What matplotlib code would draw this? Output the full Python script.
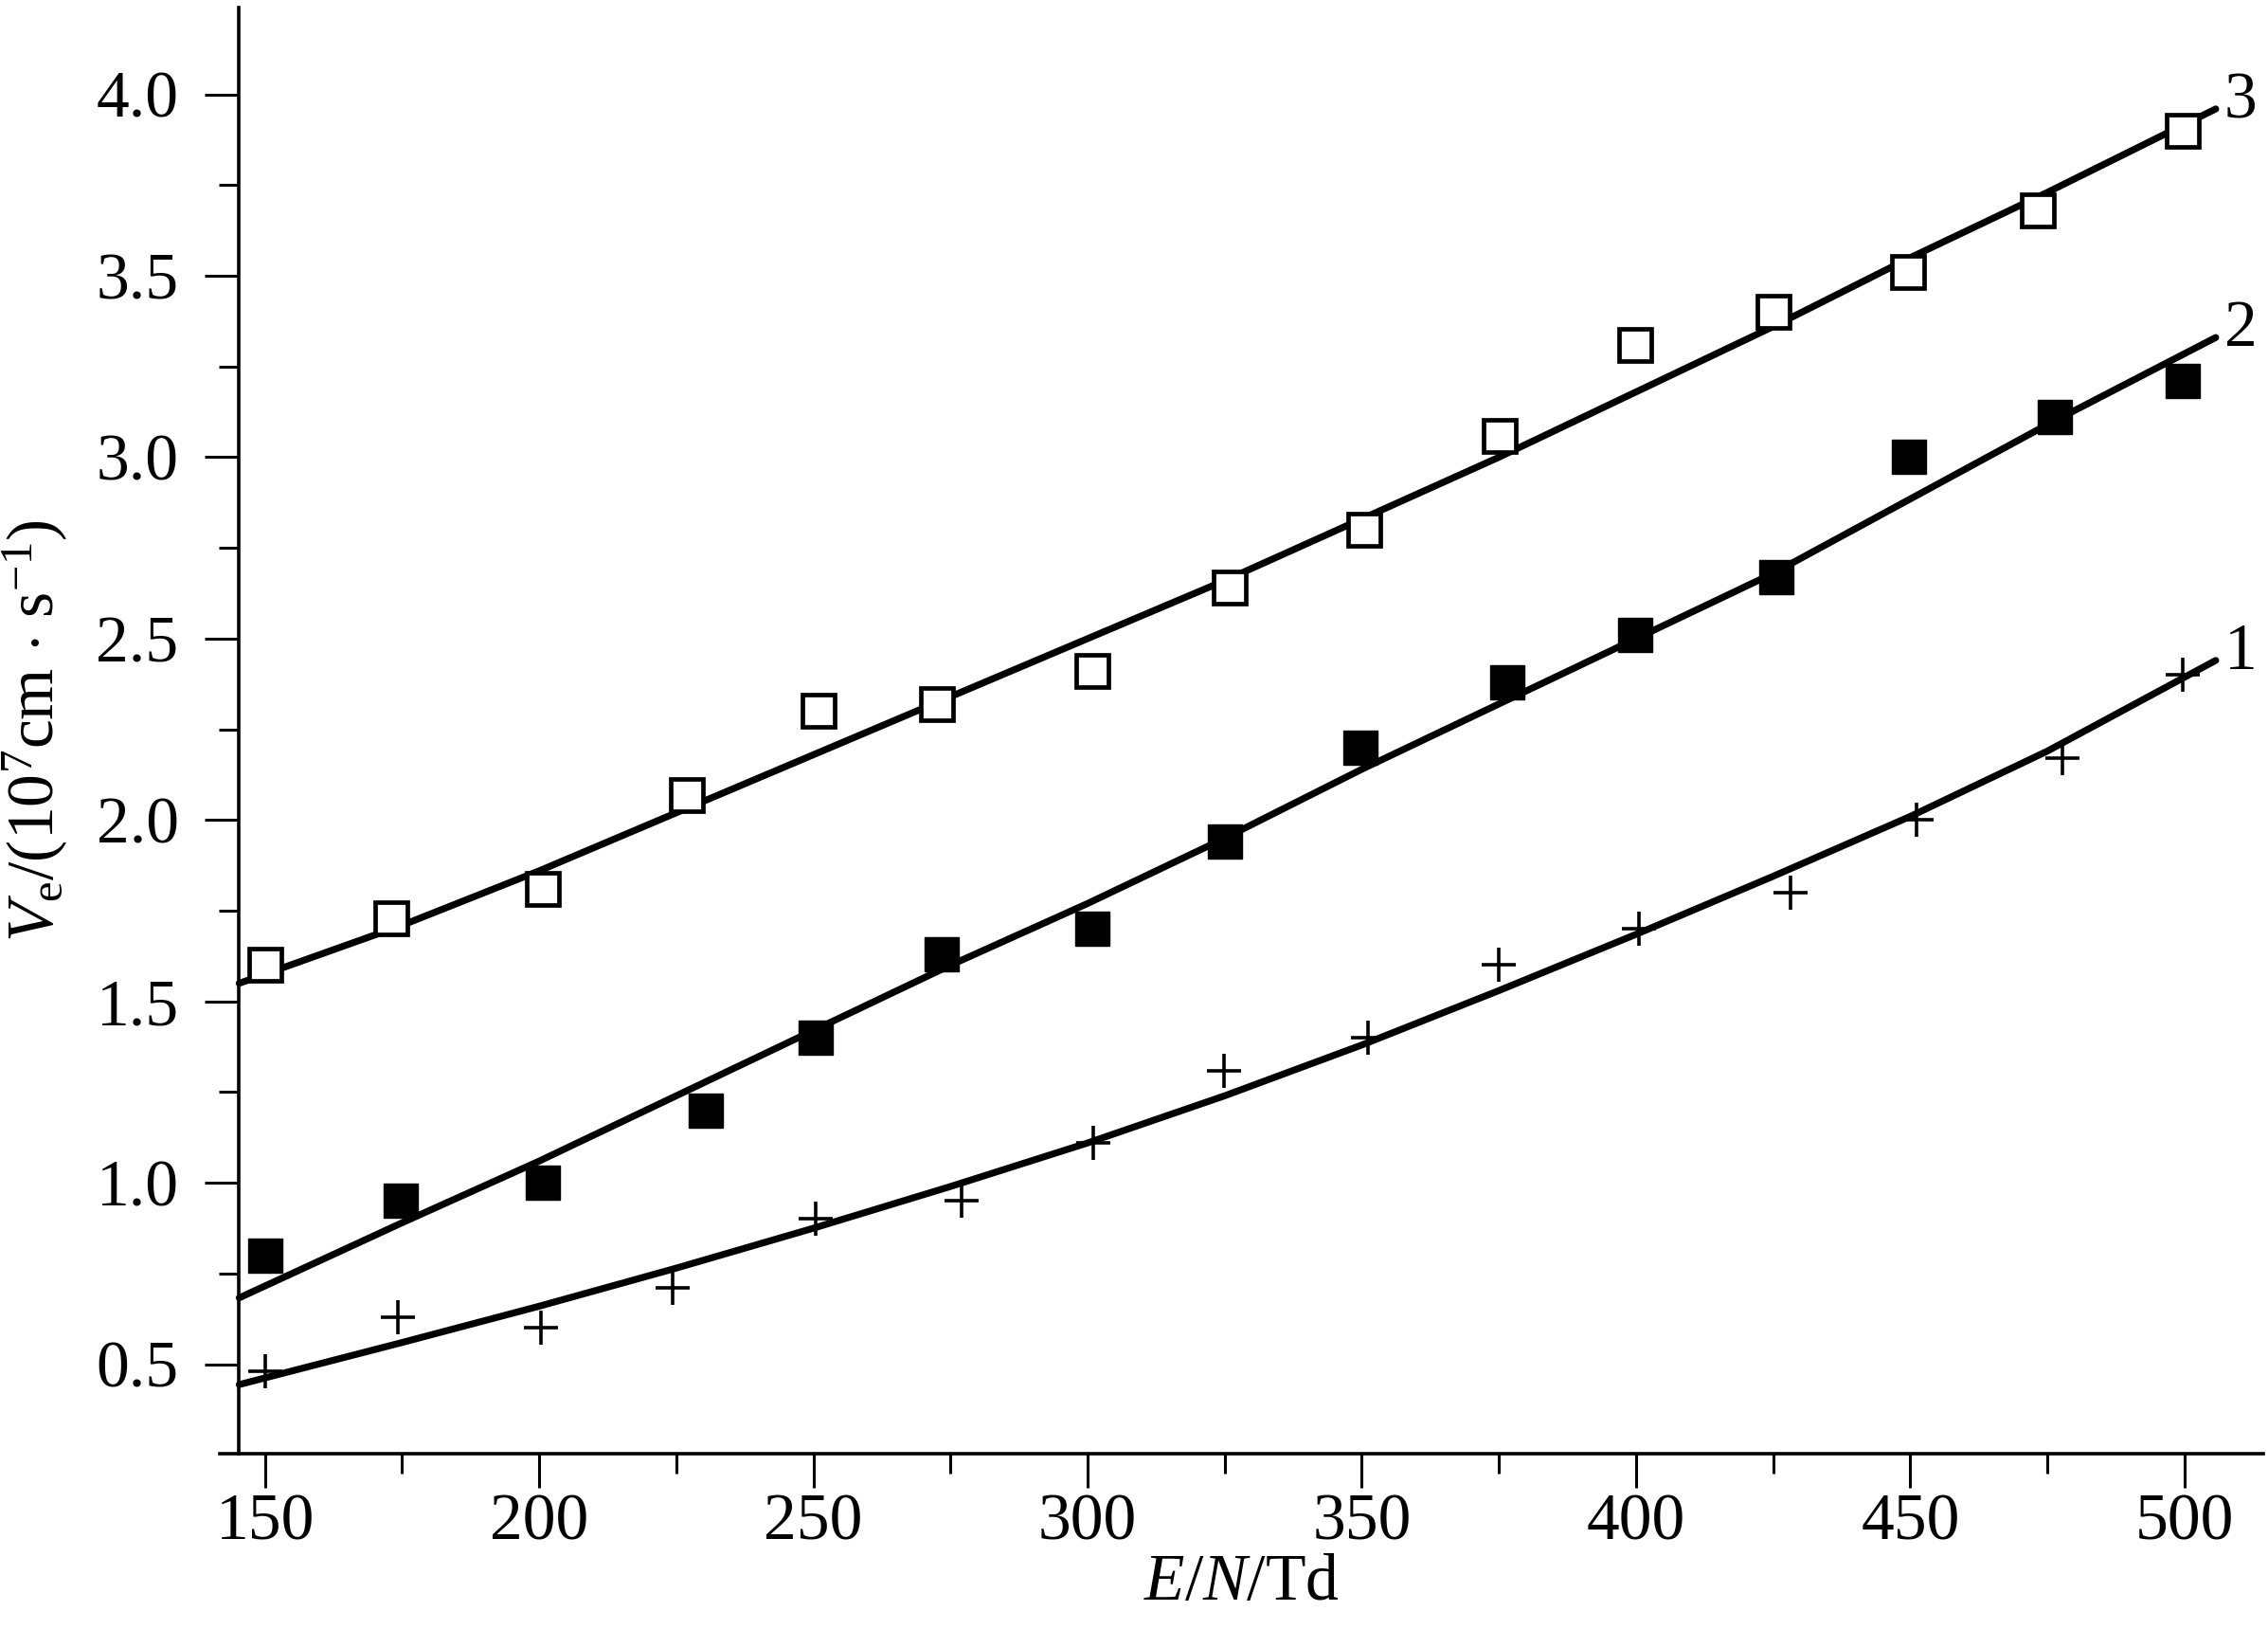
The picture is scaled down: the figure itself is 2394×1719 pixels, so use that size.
"""
Electron drift velocity vs reduced field E/N
"""
import numpy as np
import matplotlib.pyplot as plt

plt.rcParams["font.family"] = "Liberation Serif"
plt.rcParams["mathtext.fontset"] = "custom"
plt.rcParams["mathtext.rm"] = "Liberation Serif"
plt.rcParams["mathtext.it"] = "Liberation Serif:italic"

# measured points (open squares = curve 3, filled squares = curve 2, plus = curve 1)
x3 = [150, 173, 200.6, 227, 251, 272.6, 300.8, 325.9, 350.4, 375.2, 399.9, 425, 449.5, 473.2, 499.6]
y3 = [1.60, 1.73, 1.81, 2.07, 2.30, 2.32, 2.41, 2.64, 2.80, 3.06, 3.31, 3.40, 3.51, 3.68, 3.90]

x2 = [150, 174.8, 200.6, 230.4, 250.5, 273.4, 300.8, 325.1, 349.8, 376.5, 399.9, 425.5, 449.8, 476.4, 499.6]
y2 = [0.80, 0.95, 1.00, 1.20, 1.40, 1.63, 1.70, 1.94, 2.20, 2.38, 2.51, 2.67, 3.00, 3.11, 3.21]

x1 = [150, 174.3, 200.4, 224.3, 250.5, 277.1, 301.1, 324.8, 351.2, 374.9, 400.5, 428.1, 451.1, 477.7, 499.6]
y1 = [0.48, 0.63, 0.60, 0.71, 0.90, 0.95, 1.11, 1.31, 1.40, 1.60, 1.70, 1.80, 2.00, 2.17, 2.40]

# calculated curves
x_fit = [145.3, 175, 200, 225, 250, 275, 300, 325, 350, 375, 400, 425, 450, 475, 505.7]
fit3 = [1.55, 1.71, 1.86, 2.02, 2.18, 2.34, 2.50, 2.66, 2.83, 3.00, 3.18, 3.36, 3.55, 3.73, 3.96]
fit2 = [0.683, 0.89, 1.06, 1.24, 1.42, 1.60, 1.77, 1.95, 2.14, 2.32, 2.50, 2.68, 2.885, 3.09, 3.33]
fit1 = [0.444, 0.56, 0.66, 0.765, 0.875, 0.99, 1.11, 1.24, 1.38, 1.53, 1.685, 1.845, 2.01, 2.19, 2.44]

curve_labels = ["1", "2", "3"]

fig = plt.figure(figsize=(11.97, 8.595), dpi=200)
ax = fig.add_axes([0.097, 0.1075, 0.901, 0.888])

lw = 2.6
ax.plot(x_fit, fit3, color="black", lw=lw, solid_capstyle="round", solid_joinstyle="round")
ax.plot(x_fit, fit2, color="black", lw=lw, solid_capstyle="round", solid_joinstyle="round")
ax.plot(x_fit, fit1, color="black", lw=lw, solid_capstyle="round", solid_joinstyle="round")

ax.plot(x3, y3, ls="none", marker="s", ms=12, mfc="white", mec="black", mew=1.7)
ax.plot(x2, y2, ls="none", marker="s", ms=13, mfc="black", mec="black", mew=0.5)
ax.plot(x1, y1, ls="none", marker="+", ms=13, mec="black", mew=1.3)

for lab, fit in zip(curve_labels, [fit1, fit2, fit3]):
    ax.text(x_fit[-1] + 1.5, fit[-1] + 0.02, lab, fontsize=25, ha="left", va="center")

ax.set_xlim(141.8, 514.4)
ax.set_ylim(0.253, 4.24)
ax.spines["left"].set_position(("data", 145.3))
ax.spines["top"].set_visible(False)
ax.spines["right"].set_visible(False)
for s in ["left", "bottom"]:
    ax.spines[s].set_linewidth(1.3)

ax.set_xticks(np.arange(150, 501, 50))
ax.set_xticks(np.arange(175, 501, 50), minor=True)
ax.set_yticks(np.arange(0.5, 4.01, 0.5))
ax.set_yticks(np.arange(0.75, 4.2, 0.5), minor=True)
ax.set_yticklabels([f"{v:.1f}" for v in np.arange(0.5, 4.01, 0.5)])

ax.tick_params(axis="both", which="major", direction="out", length=13, width=1.1, labelsize=25)
ax.tick_params(axis="both", which="minor", direction="out", length=7.5, width=1.1)
ax.tick_params(axis="x", which="major", pad=2)
ax.tick_params(axis="y", which="major", pad=10)

ax.set_xlabel(r"$E$/$N$/Td", fontsize=25, labelpad=0)
ax.set_ylabel(r"$V_{\mathrm{e}}$/(10$^{7}$cm $\cdot$ s$^{-1}$)", fontsize=25, labelpad=10)

plt.savefig("out.png", dpi=200)
